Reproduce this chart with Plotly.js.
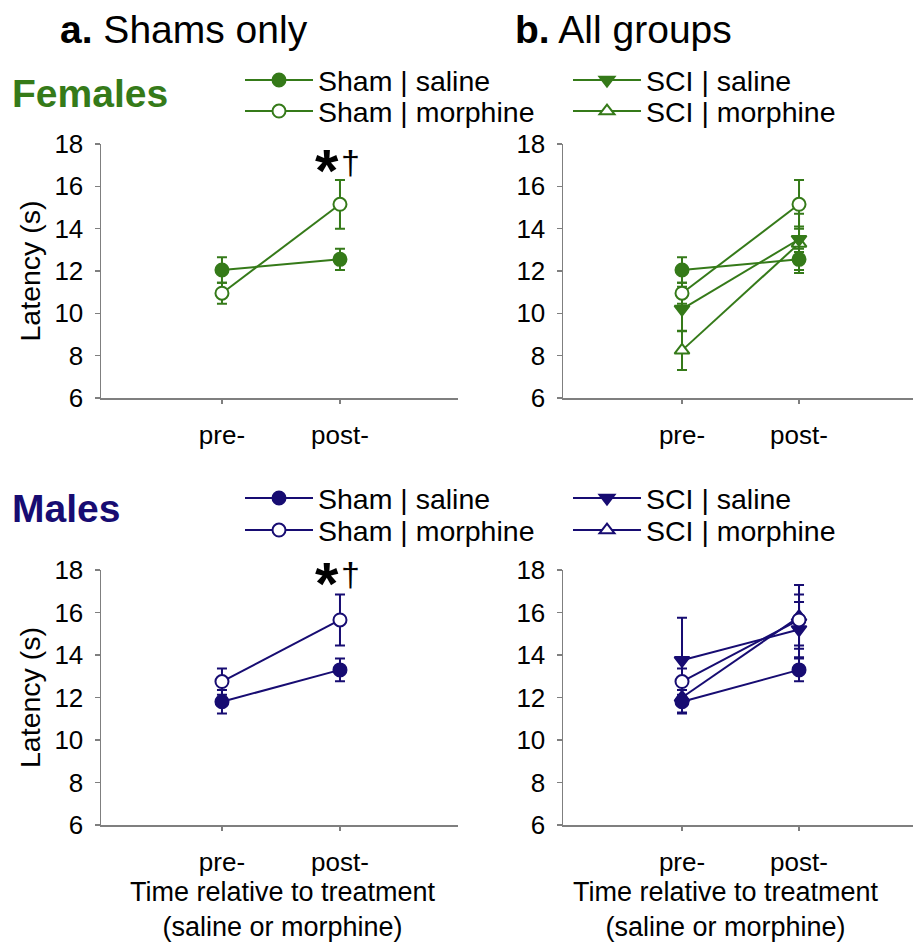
<!DOCTYPE html>
<html>
<head>
<meta charset="utf-8">
<script src="https://cdn.plot.ly/plotly-3.0.1.min.js"></script>
<style>html,body{margin:0;padding:0;background:#fff;}</style>
</head>
<body>
<div id="chart" style="width:913px;height:943px;"></div>
<script>
// ---- data ----
const timeX = [1, 2];
const tickLabels = ['pre-', 'post-'];

const femShamSaline = [12.05, 12.55];
const femShamSalineErr = [0.6, 0.5];
const femShamMorphine = [10.95, 15.15];
const femShamMorphineErr = [0.5, 1.15];
const femSciSaline = [10.2, 13.5];
const femSciSalineErr = [1.05, 0.6];
const femSciMorphine = [8.25, 13.3];
const femSciMorphineErr = [0.93, 1.4];

const maleShamSaline = [11.8, 13.3];
const maleShamSalineErr = [0.55, 0.53];
const maleShamMorphine = [12.75, 15.65];
const maleShamMorphineErr = [0.62, 1.2];
const maleSciSaline = [13.75, 15.2];
const maleSciSalineErr = [2.0, 1.3];
const maleSciMorphine = [12.0, 15.8];
const maleSciMorphineErr = [0.7, 1.5];

const xTitleText = 'Time relative to treatment<br>(saline or morphine)';

const GREEN = '#357a19';
const NAVY = '#170c72';
const FONT = 'Liberation Sans, Arial, sans-serif';

function tr(name, y, err, color, symbol, open, xa, ya, legend, show) {
  return {
    type: 'scatter', mode: 'lines+markers', name: name,
    x: timeX, y: y, xaxis: xa, yaxis: ya,
    line: {color: color, width: 2},
    marker: {symbol: symbol, size: 13, color: open ? '#ffffff' : color,
             line: {color: color, width: 2}},
    error_y: {type: 'data', array: err, visible: true, color: color, thickness: 2, width: 5},
    legend: legend, showlegend: show
  };
}

const data = [
  // Females, panel a
  tr('Sham | saline', femShamSaline, femShamSalineErr, GREEN, 'circle', false, 'x', 'y', 'legend', false),
  tr('Sham | morphine', femShamMorphine, femShamMorphineErr, GREEN, 'circle', true, 'x', 'y', 'legend', false),
  // Females, panel b
  tr('SCI | morphine', femSciMorphine, femSciMorphineErr, GREEN, 'triangle-up', true, 'x2', 'y2', 'legend4', true),
  tr('SCI | saline', femSciSaline, femSciSalineErr, GREEN, 'triangle-down', false, 'x2', 'y2', 'legend3', true),
  tr('Sham | morphine', femShamMorphine, femShamMorphineErr, GREEN, 'circle', true, 'x2', 'y2', 'legend2', true),
  tr('Sham | saline', femShamSaline, femShamSalineErr, GREEN, 'circle', false, 'x2', 'y2', 'legend', true),
  // Males, panel a
  tr('Sham | saline', maleShamSaline, maleShamSalineErr, NAVY, 'circle', false, 'x3', 'y3', 'legend5', false),
  tr('Sham | morphine', maleShamMorphine, maleShamMorphineErr, NAVY, 'circle', true, 'x3', 'y3', 'legend5', false),
  // Males, panel b
  tr('SCI | morphine', maleSciMorphine, maleSciMorphineErr, NAVY, 'triangle-up', true, 'x4', 'y4', 'legend8', true),
  tr('SCI | saline', maleSciSaline, maleSciSalineErr, NAVY, 'triangle-down', false, 'x4', 'y4', 'legend7', true),
  tr('Sham | morphine', maleShamMorphine, maleShamMorphineErr, NAVY, 'circle', true, 'x4', 'y4', 'legend6', true),
  tr('Sham | saline', maleShamSaline, maleShamSalineErr, NAVY, 'circle', false, 'x4', 'y4', 'legend5', true)
];

const W = 913, H = 943;
const axLine = '#7f7f7f';

function xax(domain, range, anchor) {
  return {
    domain: domain, range: range, anchor: anchor,
    tickmode: 'array', tickvals: timeX, ticktext: tickLabels,
    showline: true, linecolor: axLine, linewidth: 1.5,
    ticks: 'outside', ticklen: 4, tickcolor: axLine, tickwidth: 1.5,
    showgrid: false, zeroline: false, fixedrange: true,
    ticklabelstandoff: 9,
    tickfont: {family: FONT, size: 26, color: '#000'}
  };
}
function yax(domain, anchor, withTitle) {
  const a = {
    domain: domain, range: [6, 18], anchor: anchor,
    tickvals: [6, 8, 10, 12, 14, 16, 18],
    showline: true, linecolor: axLine, linewidth: 1.5,
    ticks: 'outside', ticklen: 5, tickcolor: axLine, tickwidth: 1.5,
    showgrid: false, zeroline: false, fixedrange: true,
    ticklabelstandoff: 6,
    tickfont: {family: FONT, size: 26, color: '#000'}
  };
  if (withTitle) {
    a.title = {text: 'Latency (s)', font: {family: FONT, size: 28.5, color: '#000'}, standoff: 5};
  }
  return a;
}

const xL = [101 / W, 458 / W], xR = [563 / W, 1];
const yT = [1 - 398 / H, 1 - 144 / H], yB = [1 - 825 / H, 1 - 570 / H];
const rL = [-0.025, 3.0], rR = [-0.017, 2.974];

function leg(x, yCenter) {
  return {x: x / W, y: 1 - (yCenter - 27) / H, xanchor: 'left', yanchor: 'top',
          bgcolor: 'rgba(0,0,0,0)', borderwidth: 0,
          font: {family: FONT, size: 28.5, color: '#000'},
          itemwidth: 68, itemclick: false, itemdoubleclick: false};
}

const layout = {
  width: W, height: H,
  margin: {l: 0, r: 0, t: 0, b: 0},
  paper_bgcolor: '#fff', plot_bgcolor: 'rgba(0,0,0,0)',
  font: {family: FONT},
  xaxis: xax(xL, rL, 'y'),
  yaxis: yax(yT, 'x', true),
  xaxis2: xax(xR, rR, 'y2'),
  yaxis2: yax(yT, 'x2', false),
  xaxis3: xax(xL, rL, 'y3'),
  yaxis3: yax(yB, 'x3', true),
  xaxis4: xax(xR, rR, 'y4'),
  yaxis4: yax(yB, 'x4', false),
  legend: leg(240, 82),
  legend2: leg(240, 113),
  legend3: leg(568, 82),
  legend4: leg(568, 113),
  legend5: leg(240, 500),
  legend6: leg(240, 532),
  legend7: leg(568, 500),
  legend8: leg(568, 532),
  annotations: [
    {xref: 'paper', yref: 'paper', x: 58 / W, y: 1 - 30 / H, xanchor: 'left', yanchor: 'middle',
     text: '<b>a.</b> Shams only', showarrow: false, font: {family: FONT, size: 39, color: '#000'}},
    {xref: 'paper', yref: 'paper', x: 513 / W, y: 1 - 30 / H, xanchor: 'left', yanchor: 'middle',
     text: '<b>b.</b> All groups', showarrow: false, font: {family: FONT, size: 39, color: '#000'}},
    {xref: 'paper', yref: 'paper', x: 10 / W, y: 1 - 93 / H, xanchor: 'left', yanchor: 'middle',
     text: '<b>Females</b>', showarrow: false, font: {family: FONT, size: 39, color: GREEN}},
    {xref: 'paper', yref: 'paper', x: 10 / W, y: 1 - 508 / H, xanchor: 'left', yanchor: 'middle',
     text: '<b>Males</b>', showarrow: false, font: {family: FONT, size: 39, color: NAVY}},
    {xref: 'paper', yref: 'paper', x: 283 / W, y: 1 - 909 / H, xanchor: 'center', yanchor: 'middle',
     text: xTitleText, showarrow: false, font: {family: FONT, size: 27, color: '#000'}},
    {xref: 'paper', yref: 'paper', x: 726 / W, y: 1 - 909 / H, xanchor: 'center', yanchor: 'middle',
     text: xTitleText, showarrow: false, font: {family: FONT, size: 27, color: '#000'}},
    {xref: 'x', yref: 'paper', x: 2, xshift: -13, y: 1 - 171 / H, yanchor: 'middle',
     text: '<b>*</b>', showarrow: false, font: {family: FONT, size: 60, color: '#000'}},
    {xref: 'x', yref: 'paper', x: 2, xshift: 11, y: 1 - 162 / H, yanchor: 'middle',
     text: '†', showarrow: false, font: {family: FONT, size: 34, color: '#000'}},
    {xref: 'x3', yref: 'paper', x: 2, xshift: -13, y: 1 - 583 / H, yanchor: 'middle',
     text: '<b>*</b>', showarrow: false, font: {family: FONT, size: 60, color: '#000'}},
    {xref: 'x3', yref: 'paper', x: 2, xshift: 11, y: 1 - 574 / H, yanchor: 'middle',
     text: '†', showarrow: false, font: {family: FONT, size: 34, color: '#000'}}
  ]
};

Plotly.newPlot('chart', data, layout, {staticPlot: true, displayModeBar: false});
</script>
</body>
</html>
